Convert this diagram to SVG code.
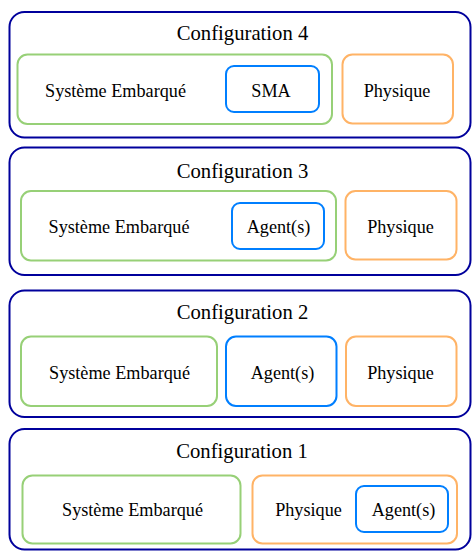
<svg xmlns="http://www.w3.org/2000/svg" width="473" height="551" viewBox="0 0 473 551">
<style>
.outer{fill:#ffffff;stroke:#00009c;stroke-width:2}
.g{fill:#ffffff;stroke:#97d077;stroke-width:2}
.b{fill:#ffffff;stroke:#007fff;stroke-width:2}
.o{fill:#ffffff;stroke:#ffb366;stroke-width:2}
text{font-family:"Liberation Serif","Times New Roman",serif;fill:#000000;text-anchor:middle}
.t{font-size:20.7px}
.l{font-size:18.2px}
</style>
<rect width="473" height="551" fill="#ffffff"/>
<g id="config4">
<rect class="outer" x="9.5" y="12" width="461" height="125.5" rx="15"/>
<text class="t" x="242.5" y="39.5">Configuration 4</text>
<g id="c4-systeme"><rect class="g" x="17.5" y="54.5" width="314.5" height="69.5" rx="10"/><text class="l" x="115.5" y="96.5">Système Embarqué</text></g>
<g id="c4-sma"><rect class="b" x="226" y="66" width="93" height="46" rx="8"/><text class="l" x="271" y="96.5">SMA</text></g>
<g id="c4-physique"><rect class="o" x="342.5" y="54.5" width="110.5" height="69" rx="10"/><text class="l" x="397" y="96.5">Physique</text></g>
</g>
<g id="config3">
<rect class="outer" x="9.5" y="147.5" width="461" height="127.5" rx="15"/>
<text class="t" x="242.5" y="177.5">Configuration 3</text>
<g id="c3-systeme"><rect class="g" x="21" y="191" width="315" height="69.5" rx="10"/><text class="l" x="119" y="232.7">Système Embarqué</text></g>
<g id="c3-agents"><rect class="b" x="232" y="203" width="92" height="46" rx="8"/><text class="l" x="278.5" y="232.7">Agent(s)</text></g>
<g id="c3-physique"><rect class="o" x="345.5" y="191" width="111" height="68.5" rx="10"/><text class="l" x="400.5" y="232.7">Physique</text></g>
</g>
<g id="config2">
<rect class="outer" x="9.5" y="290.5" width="461" height="126.5" rx="15"/>
<text class="t" x="242.5" y="318.5">Configuration 2</text>
<g id="c2-systeme"><rect class="g" x="21" y="336.5" width="196" height="69.5" rx="10"/><text class="l" x="119.5" y="378.5">Système Embarqué</text></g>
<g id="c2-agents"><rect class="b" x="226" y="336.5" width="110.5" height="69.5" rx="10"/><text class="l" x="282.5" y="378.5">Agent(s)</text></g>
<g id="c2-physique"><rect class="o" x="346" y="336.5" width="110.5" height="69.5" rx="10"/><text class="l" x="400.5" y="378.5">Physique</text></g>
</g>
<g id="config1">
<rect class="outer" x="9.5" y="429" width="461" height="120.5" rx="15"/>
<text class="t" x="242" y="457.5">Configuration 1</text>
<g id="c1-systeme"><rect class="g" x="22.5" y="475.5" width="218" height="68" rx="10"/><text class="l" x="132.5" y="515.8">Système Embarqué</text></g>
<g id="c1-physique"><rect class="o" x="252.5" y="475.5" width="204.5" height="68" rx="10"/><text class="l" x="308.5" y="515.8">Physique</text></g>
<g id="c1-agents"><rect class="b" x="356" y="486" width="92" height="46" rx="8"/><text class="l" x="403.5" y="515.8">Agent(s)</text></g>
</g>
<g id="connectors"/>
</svg>
